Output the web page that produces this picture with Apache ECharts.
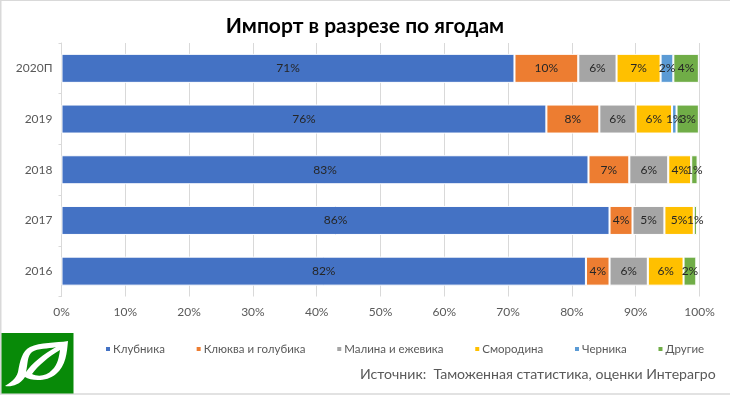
<!DOCTYPE html>
<html><head><meta charset="utf-8">
<style>html,body{margin:0;padding:0;background:#fff}#c{width:730px;height:395px}</style>
<script src="https://cdn.jsdelivr.net/npm/echarts@6/dist/echarts.min.js"></script></head>
<body><div id="c"></div>
<script>
const categories = ['2016','2017','2018','2019','2020П'];
const klubnika = [82.2,85.9,82.6,76,71];
const klukva = [3.7,3.6,6.4,8.3,10];
const malina = [6,5,6.1,5.7,6];
const smorodina = [5.6,4.6,3.6,5.7,6.9];
const chernika = [0,0,0,0.7,2];
const drugie = [2,0.5,1,3.5,4];
const lblKlubnika = [82,86,83,76,71];
const lblKlukva = [4,4,7,8,10];
const lblMalina = [6,5,6,6,6];
const lblSmorodina = [6,5,4,6,7];
const lblChernika = [null,null,null,1,2];
const lblDrugie = [2,1,1,3,4];
const title = 'Импорт в разрезе по ягодам';
const source = 'Источник:  Таможенная статистика, оценки Интерагро';
const FONT = '"Lato","Open Sans",sans-serif';
const mk = (name, data, color, lab) => ({
  name, type:'bar', stack:'t', data, barWidth:29,
  itemStyle:{color, borderColor:'#fff', borderWidth:1},
  label:{show:true, position:'inside', color:'#262626', fontSize:12, fontFamily:FONT,
    formatter:p => lab[p.dataIndex]==null ? '' : lab[p.dataIndex]+'%'},
  labelLayout:{hideOverlap:false}
});
echarts.graphic.registerShape('leafOuter', echarts.graphic.extendShape({
  shape:{},
  buildPath(ctx){
    ctx.moveTo(68,341);
    ctx.bezierCurveTo(56,343,40,342,30,347);
    ctx.bezierCurveTo(22,351,20,361,18,372);
    ctx.bezierCurveTo(16,379,10,383,5,386);
    ctx.bezierCurveTo(10,387,19,386,25,377);
    ctx.bezierCurveTo(31,381,47,382,56,374);
    ctx.bezierCurveTo(66,366,67,352,68,341);
    ctx.closePath();
  }
}));
echarts.graphic.registerShape('leafHoles', echarts.graphic.extendShape({
  shape:{},
  buildPath(ctx){
    ctx.moveTo(56,347);
    ctx.bezierCurveTo(48,349,38,348,32,352);
    ctx.bezierCurveTo(27,356,28,364,26,372);
    ctx.bezierCurveTo(32,363,44,354,56,347);
    ctx.closePath();
    ctx.moveTo(60,350);
    ctx.bezierCurveTo(48,357,38,366,32,374);
    ctx.bezierCurveTo(38,377,47,376,52,370);
    ctx.bezierCurveTo(58,365,59,356,60,350);
    ctx.closePath();
  }
}));
const chart = echarts.init(document.getElementById('c'), null, {renderer:'canvas'});
chart.setOption({
  animation:false,
  backgroundColor:'#fff',
  title:{text:title, left:360, top:11, textAlign:'center',
    textStyle:{fontSize:21, fontWeight:'bold', color:'#000', fontFamily:FONT}},
  grid:{left:61.5, right:30.5, top:43, bottom:98.5},
  xAxis:{type:'value', min:0, max:100, interval:10,
    axisLine:{show:false}, axisTick:{show:false},
    splitLine:{show:true, lineStyle:{color:'#d9d9d9', width:1}},
    axisLabel:{formatter:v=>v+'%', color:'#595959', fontSize:12, fontFamily:FONT, margin:10, hideOverlap:false, showMinLabel:true, showMaxLabel:true}},
  yAxis:{type:'category', data:categories,
    axisLine:{show:true, lineStyle:{color:'#d9d9d9'}},
    axisTick:{show:true, length:3, lineStyle:{color:'#d9d9d9'}},
    axisLabel:{color:'#595959', fontSize:12, fontFamily:FONT, margin:9}},
  legend:{top:338, left:99, icon:'rect', itemWidth:6, itemHeight:6, itemGap:29.8,
    textStyle:{color:'#595959', fontSize:11.5, fontFamily:FONT, padding:[0,0,0,-3]},
    selectedMode:false,
    data:['Клубника','Клюква и голубика','Малина и ежевика','Смородина','Черника','Другие']},
  series:[
    mk('Клубника',klubnika,'#4472c4',lblKlubnika),
    mk('Клюква и голубика',klukva,'#ed7d31',lblKlukva),
    mk('Малина и ежевика',malina,'#a5a5a5',lblMalina),
    mk('Смородина',smorodina,'#ffc000',lblSmorodina),
    mk('Черника',chernika,'#5b9bd5',lblChernika),
    mk('Другие',drugie,'#70ad47',lblDrugie)
  ],
  graphic:[
    {type:'line', z:100, shape:{x1:0,y1:0.5,x2:730,y2:0.5}, style:{stroke:'#d9d9d9', lineWidth:1}},
    {type:'line', z:100, shape:{x1:0.75,y1:0,x2:0.75,y2:394}, style:{stroke:'#d9d9d9', lineWidth:1.5}},
    {type:'line', z:100, shape:{x1:0,y1:394,x2:730,y2:394}, style:{stroke:'#d9d9d9', lineWidth:1.5}},
    {type:'text', z:100, x:360, y:367, style:{text:source, fill:'#595959', fontSize:14.1, fontFamily:FONT}},
    {type:'rect', z:100, shape:{x:1.5,y:333,width:72,height:60.5}, style:{fill:'#088a08'}},
    {type:'leafOuter', z:101, style:{fill:'#fff'}},
    {type:'leafHoles', z:102, style:{fill:'#088a08'}}
  ]
});
</script></body></html>
